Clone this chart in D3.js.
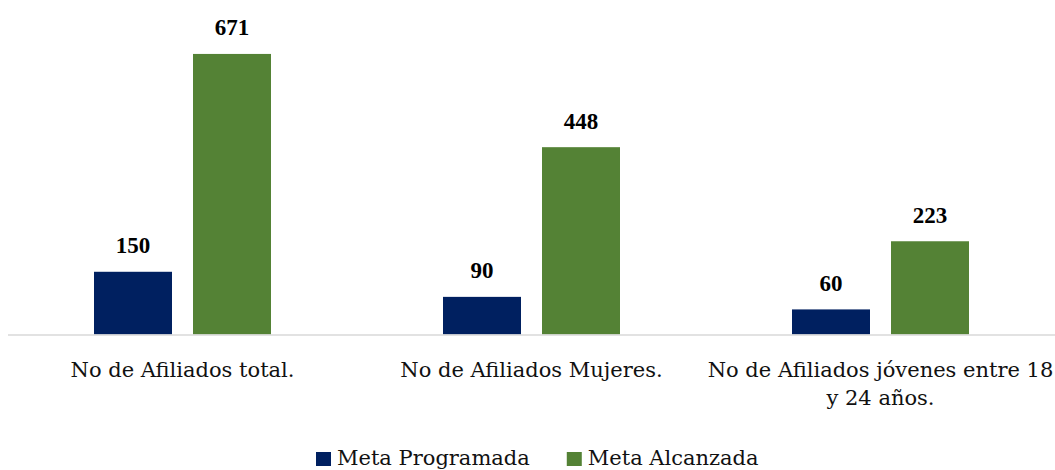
<!doctype html>
<html>
  <head>
    <meta charset="utf-8">
    <title>Afiliados</title>
    <script src="https://cdnjs.cloudflare.com/ajax/libs/d3/7.8.5/d3.min.js"></script>
    <style>
      body { margin: 0; background: #fff; }
      text { font-family: "DejaVu Serif", serif; }
    </style>
  </head>
  <body>
    <div id="chart"></div>
    <script>
      // data
      const categories = [
        ["No de Afiliados total."],
        ["No de Afiliados Mujeres."],
        ["No de Afiliados jóvenes entre 18", "y 24 años."]
      ];
      const seriesNames = ["Meta Programada", "Meta Alcanzada"];
      const programada = [150, 90, 60];
      const alcanzada = [671, 448, 223];
      const colors = ["#002060", "#548235"];

      const width = 1055, height = 470;
      const margin = {left: 8, right: 0, top: 0};
      const baseY = 334.5;

      const svg = d3.select('#chart')
        .append('svg')
        .attr('width', width)
        .attr('height', height);

      const x = d3.scaleBand()
        .domain(d3.range(categories.length))
        .range([margin.left, width - margin.right]);

      const barW = 78, gap = 21;
      const inner = d3.scaleBand()
        .domain([0, 1])
        .range([x.bandwidth() / 2 - barW - gap / 2, x.bandwidth() / 2 + barW + gap / 2])
        .paddingInner(gap / (barW + gap));

      const y = d3.scaleLinear()
        .domain([0, 800])
        .range([baseY, margin.top]);

      const rows = categories.map((c, i) => ({i, vals: [programada[i], alcanzada[i]]}));

      const groups = svg.selectAll('g.grp')
        .data(rows)
        .join('g')
        .attr('class', 'grp')
        .attr('transform', d => `translate(${x(d.i)},0)`);

      groups.selectAll('rect')
        .data(d => d.vals.map((v, s) => ({v, s})))
        .join('rect')
        .attr('x', d => inner(d.s))
        .attr('width', inner.bandwidth())
        .attr('y', d => y(d.v))
        .attr('height', d => baseY - y(d.v))
        .attr('fill', d => colors[d.s]);

      groups.selectAll('text.val')
        .data(d => d.vals.map((v, s) => ({v, s})))
        .join('text')
        .attr('class', 'val')
        .attr('x', d => inner(d.s) + inner.bandwidth() / 2)
        .attr('y', d => y(d.v) - 18.5)
        .attr('text-anchor', 'middle')
        .style('font-family', '"Liberation Serif", serif')
        .style('font-weight', 'bold')
        .style('font-size', '23px')
        .attr('fill', '#000')
        .text(d => d.v);

      // baseline
      svg.append('line')
        .attr('x1', margin.left).attr('x2', width)
        .attr('y1', baseY + 0.5).attr('y2', baseY + 0.5)
        .attr('stroke', '#d9d9d9')
        .attr('stroke-width', 1.5);

      // category labels
      const lab = svg.selectAll('text.cat')
        .data(categories)
        .join('text')
        .attr('class', 'cat')
        .attr('text-anchor', 'middle')
        .attr('fill', '#111')
        .style('font-size', '21px')
        .attr('x', (d, i) => x(i) + x.bandwidth() / 2)
        .attr('y', 377);

      lab.selectAll('tspan')
        .data(d => d)
        .join('tspan')
        .attr('x', function() { return this.parentNode.getAttribute('x'); })
        .attr('dy', (d, i) => i === 0 ? 0 : 28)
        .text(d => d);

      // legend
      const legend = svg.append('g');
      let lx = 316;
      seriesNames.forEach((name, i) => {
        legend.append('rect')
          .attr('x', lx).attr('y', 452)
          .attr('width', 15).attr('height', 14)
          .attr('fill', colors[i]);
        const t = legend.append('text')
          .attr('x', lx + 21).attr('y', 465)
          .style('font-size', '21px')
          .attr('fill', '#111')
          .text(name);
        lx = lx + 21 + t.node().getComputedTextLength() + 37;
      });
    </script>
  </body>
</html>
